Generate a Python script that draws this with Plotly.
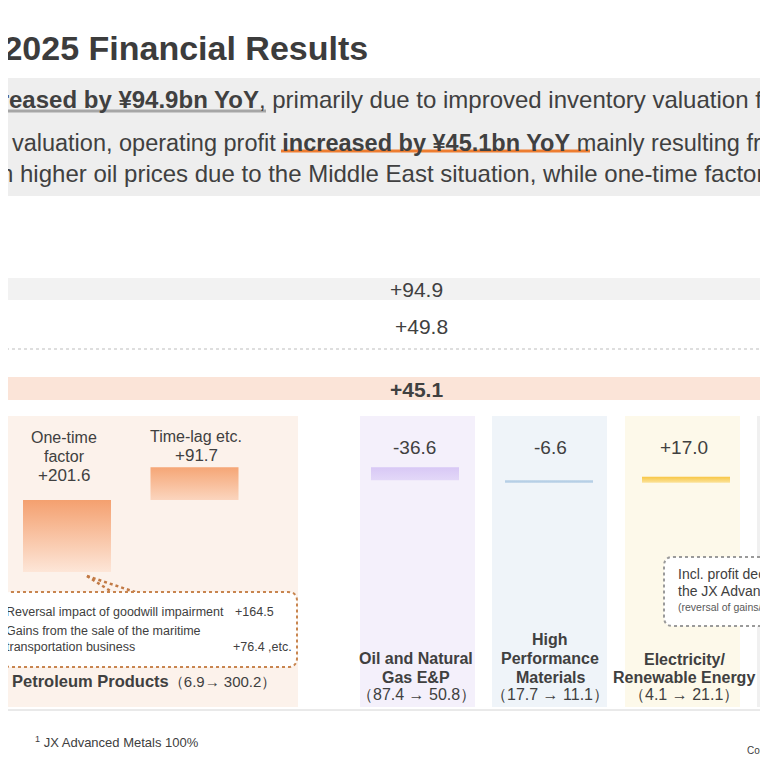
import plotly.graph_objects as go

W = H = 768
OFF = 8            # the page puts the figure 8px in from the top-left corner
FONT = "Liberation Sans, Arial, sans-serif"
DARK = "#404040"

# operating profit changes, bn yen (waterfall, left to right)
bar_names = ["One-time factor", "Time-lag etc.", "Oil and Natural Gas E&P",
             "High Performance Materials", "Electricity/Renewable Energy", "JX Advanced Metals"]
bar_values = [201.6, 91.7, -36.6, -6.6, 17.0, -178.0]
bar_labels = ["+201.6", "+91.7", "-36.6", "-6.6", "+17.0"]
# gradient colours (bottom, top)
bar_colors = [("#fde6d8", "#f4a06f"), ("#fbd5be", "#f5a676"), ("#e3d8f8", "#d8c8f5"),
              ("#b6cfe6", "#b6cfe6"), ("#fbe39a", "#f8c643"), ("#d0d0d0", "#7a7a7a")]

# segment results FY2024 -> FY2025
segment_titles = ["<b>Petroleum Products</b>", "<b>Oil and Natural</b>", "<b>High</b>", "<b>Electricity/</b>"]
segment_from = [6.9, 87.4, 17.7, 4.1]
segment_to = [300.2, 50.8, 11.1, 21.1]

summary_values = ["+94.9", "+49.8", "+45.1"]
callout_items = ["Reversal impact of goodwill impairment", "Gains from the sale of the maritime",
                 "transportation business"]
callout_values = ["+164.5", "", "+76.4 ,etc."]

# layout (screen pixels)
bar_x = [67, 194.5, 415, 549, 686, 809]
bar_w = 88
K = 0.357          # px per bn
ZERO_PX = 572      # pixel row of the waterfall base

bases = []
run = 0
for v in bar_values:
    bases.append(run)
    run += v


def X(px):
    return (px - OFF) / W


def Y(py):
    return 1 - (py - OFF) / H


fig = go.Figure()
# floating waterfall bars, filled with a vertical gradient
for name, xc, b, v, (c0, c1) in zip(bar_names, bar_x, bases, bar_values, bar_colors):
    x0, x1 = xc - bar_w / 2, xc + bar_w / 2
    fig.add_trace(go.Scatter(
        x=[x0, x1, x1, x0, x0], y=[b, b, b + v, b + v, b], name=name,
        mode="lines", line=dict(width=0), fill="toself",
        fillgradient=dict(type="vertical", colorscale=[[0, c0], [1, c1]]),
        hoverinfo="skip", showlegend=False))


def txt(x, y, s, size, anchor="center", color=DARK):
    fig.add_annotation(x=X(x), y=Y(y), xref="paper", yref="paper", text=s, showarrow=False,
                       xanchor=anchor, yanchor="middle", font=dict(size=size, color=color, family=FONT))


def rect(x0, y0, x1, y1, color, layer="below"):
    fig.add_shape(type="rect", xref="paper", yref="paper", x0=X(x0), x1=X(x1), y0=Y(y1), y1=Y(y0),
                  fillcolor=color, line_width=0, layer=layer)


def line(x0, y0, x1, y1, color, width=1, dash="solid"):
    fig.add_shape(type="line", xref="paper", yref="paper", x0=X(x0), x1=X(x1), y0=Y(y0), y1=Y(y1),
                  line=dict(color=color, width=width, dash=dash))


def rrect(x0, y0, x1, y1, r, border, fill="white", width=2):
    a, b, c, d, rr = X(x0), Y(y0), X(x1), Y(y1), r / W
    p = (f"M {a + rr},{b} L {c - rr},{b} Q {c},{b} {c},{b - rr} L {c},{d + rr} Q {c},{d} {c - rr},{d} "
         f"L {a + rr},{d} Q {a},{d} {a},{d + rr} L {a},{b - rr} Q {a},{b} {a + rr},{b} Z")
    fig.add_shape(type="path", xref="paper", yref="paper", path=p, fillcolor=fill,
                  line=dict(color=border, width=width, dash="dot"))


# title and summary
txt(370, 48, "<b>FY2025 Financial Results</b>", 34, anchor="right", color="#3c3c3c")
rect(0, 78, W + OFF, 196, "#eeeeee")
txt(-37, 100, "<b>increased by ¥94.9bn YoY</b>, primarily due to improved inventory valuation from", 24, "left")
txt(-92, 143, "inventory valuation, operating profit <b>increased by ¥45.1bn YoY</b> mainly resulting from", 23.5, "left")
txt(-2, 173, "n higher oil prices due to the Middle East situation, while one-time factors", 24, "left")
line(0, 111, 266, 111, "#a6a6a6", 3)
line(281, 151, 590, 151, "#ed7d31", 3)

# summary bands
rect(0, 278, W + OFF, 300, "#f2f2f2")
txt(416, 289, summary_values[0], 21)
txt(421, 327, summary_values[1], 21)
line(0, 349, W + OFF, 349, "#bdbdbd", 1, "dot")
rect(0, 377, W + OFF, 400, "#fbe4d8")
txt(416, 389, "<b>" + summary_values[2] + "</b>", 21)

# segment panels
rect(0, 416, 298, 707, "#fcf2eb")
rect(360, 416, 475, 707, "#f4f0fb")
rect(492, 416, 607, 707, "#eff4f9")
rect(625, 416, 740, 707, "#fdf9ea")
rect(757, 416, W + OFF, 707, "#f0f0f0")
line(0, 710, W + OFF, 710, "#d4d4d4", 1)

# petroleum products
txt(64, 437, "One-time", 16)
txt(64, 456, "factor", 16)
txt(64, 475, bar_labels[0], 17)
txt(196, 436, "Time-lag etc.", 16)
txt(196, 455, bar_labels[1], 17)
line(87, 576, 112, 592, "#c27a45", 2.5, "dot")
line(87, 576, 135, 592, "#c27a45", 2.5, "dot")
rrect(2, 592, 297, 667, 9, "#c8854f")
txt(4, 612, callout_items[0], 12.5, "left")
txt(276, 612, callout_values[0], 12.5, "right")
txt(4, 631, callout_items[1], 12.5, "left")
txt(4, 647, callout_items[2], 12.5, "left")
txt(294, 647, callout_values[2], 12.5, "right")
txt(10, 681, f"{segment_titles[0]}<span style='font-size:15px'>（{segment_from[0]}→ {segment_to[0]}）</span>",
    16.5, "left")

# other segments
txt(414, 447, bar_labels[2], 19)
txt(416, 658, segment_titles[1], 16)
txt(416, 677, "<b>Gas E&P</b>", 16)
txt(416, 694, f"（{segment_from[1]} → {segment_to[1]}）", 16)

txt(550, 447, bar_labels[3], 19)
txt(550, 639, segment_titles[2], 16)
txt(550, 658, "<b>Performance</b>", 16)
txt(550, 677, "<b>Materials</b>", 16)
txt(550, 694, f"（{segment_from[2]} → {segment_to[2]}）", 16)

txt(684, 447, bar_labels[4], 19)
txt(684, 659, segment_titles[3], 16)
txt(684, 677, "<b>Renewable Energy</b>", 16)
txt(684, 694, f"（{segment_from[3]} → {segment_to[3]}）", 16)
txt(752, 694, "（", 16, "left")

rrect(664, 557, 860, 626, 9, "#9a9a9a")
txt(676, 574, "Incl. profit decline at", 14, "left")
txt(676, 591, "the JX Advanced Metals", 14, "left")
txt(676, 607, "(reversal of gains/losses", 10.5, "left", "#595959")

# footer
txt(33, 742, "<sup>1</sup> JX Advanced Metals 100%", 13, "left")
txt(745, 750, "Copyright", 10, "left")

fig.update_layout(
    width=W, height=H, margin=dict(l=0, r=0, t=0, b=0),
    paper_bgcolor="white", plot_bgcolor="rgba(0,0,0,0)",
    xaxis=dict(range=[OFF, W + OFF], visible=False, fixedrange=True),
    yaxis=dict(range=[(ZERO_PX - H - OFF) / K, (ZERO_PX - OFF) / K], visible=False, fixedrange=True),
)
fig.write_html("out.html")
